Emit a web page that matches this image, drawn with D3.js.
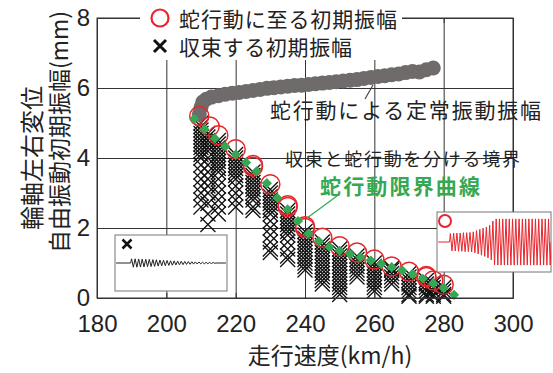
<!DOCTYPE html>
<html>
<head>
<meta charset="utf-8">
<script src="https://cdn.jsdelivr.net/npm/d3@7"></script>
<style>body{margin:0;background:#fff}</style>
</head>
<body>
<div id="chart"></div>
<script>
// axis ticks
const xTicks = [180, 200, 220, 240, 260, 280, 300];
const yTicks = [0, 2, 4, 6, 8];

// 蛇行動限界曲線 (green diamonds)
const limitSpeed = [208, 211, 214, 217, 220, 223, 226, 229, 232, 235, 238, 241, 244, 247, 250, 253, 256, 259, 262, 265, 268, 271, 274, 277, 280, 283];
const limitAmp   = [5.12, 4.82, 4.56, 4.33, 4.10, 3.87, 3.62, 3.28, 2.86, 2.53, 2.20, 1.84, 1.62, 1.46, 1.35, 1.26, 1.16, 1.07, 0.97, 0.88, 0.79, 0.68, 0.55, 0.42, 0.28, 0.09];

// 蛇行動に至る初期振幅 (red circles)
const huntSpeed = [209.5, 212.5, 215, 220, 225, 225, 230, 235, 235, 240, 240, 245, 250, 255, 260, 265, 270, 275, 275, 277, 280];
const huntAmp   = [5.2, 4.9, 4.65, 4.25, 3.75, 3.8, 3.25, 2.6, 2.65, 2.0, 2.05, 1.72, 1.48, 1.3, 1.1, 0.9, 0.75, 0.6, 0.63, 0.5, 0.38];

// 収束する初期振幅 (crosses), one list per speed
const convSpeed = [210, 212, 215, 220, 225, 230, 235, 240, 245, 250, 255, 260, 265, 270, 275, 277, 280];
const convAmp = [
  [5.0, 4.9, 4.8, 4.7, 4.6, 4.5, 4.4, 4.3, 4.2, 4.1, 4.0, 3.8, 3.6, 3.4, 3.2, 3.0, 2.8, 2.6],
  [4.7, 4.6, 4.5, 4.4, 4.3, 4.2, 4.0, 3.8, 3.6, 3.4, 3.2, 3.0, 2.7, 2.4, 2.1],
  [4.5, 4.4, 4.3, 4.2, 4.1, 4.0, 3.9, 3.8, 3.7, 3.6, 3.4, 3.2, 3.0, 2.8, 2.6, 2.4],
  [4.1, 4.0, 3.9, 3.8, 3.7, 3.6, 3.5, 3.4, 3.2, 3.0, 2.8, 2.6],
  [3.6, 3.5, 3.4, 3.3, 3.2, 3.1, 3.0, 2.9, 2.8, 2.6, 2.5],
  [3.1, 3.0, 2.9, 2.8, 2.7, 2.6, 2.5, 2.4, 2.2, 2.0, 1.8, 1.6, 1.4, 1.3],
  [2.5, 2.4, 2.3, 2.2, 2.1, 2.0, 1.9, 1.8, 1.6, 1.4, 1.2, 1.1],
  [1.9, 1.8, 1.7, 1.6, 1.5, 1.4, 1.3, 1.2, 1.1, 1.0, 0.9, 0.8],
  [1.6, 1.5, 1.4, 1.3, 1.2, 1.1, 1.0, 0.9, 0.8, 0.7, 0.6, 0.5, 0.4],
  [1.4, 1.3, 1.2, 1.1, 1.0, 0.9, 0.8, 0.7, 0.6, 0.5, 0.4, 0.3, 0.2, 0.1],
  [1.2, 1.1, 1.0, 0.9, 0.8, 0.7, 0.6],
  [1.0, 0.9, 0.8, 0.7, 0.6, 0.5, 0.4, 0.3, 0.2],
  [0.85, 0.8, 0.7, 0.6, 0.5, 0.4],
  [0.7, 0.6, 0.5, 0.4, 0.3, 0.2, 0.1, 0.05],
  [0.5, 0.4, 0.3, 0.2, 0.1, 0.05],
  [0.4, 0.3, 0.2, 0.1, 0.05],
  [0.3, 0.2, 0.1, 0.05]
];

// 蛇行動による定常振動振幅 (gray dots)
const steadySpeed = [209.5, 210, 210.5, 211.5, 213, 215, 217, 219, 221, 223, 225, 227, 229, 231, 233, 235, 237, 239, 241, 243, 245, 247, 249, 251, 253, 255, 257, 259, 261, 263, 265, 267, 269, 271, 273, 275, 277];
const steadyAmp   = [5.25, 5.45, 5.6, 5.68, 5.74, 5.78, 5.82, 5.85, 5.87, 5.9, 5.93, 5.96, 5.99, 6.01, 6.03, 6.05, 6.07, 6.08, 6.1, 6.12, 6.14, 6.16, 6.18, 6.2, 6.22, 6.24, 6.27, 6.3, 6.33, 6.35, 6.38, 6.4, 6.44, 6.47, 6.46, 6.52, 6.57];

// inset waveforms: peak of each half cycle
const convWave = [1.5, 1.5, 1.5, 1.5, 1.45, 1.45, 1.4, 1.4, 1.35, 1.3, 1.3, 1.25, 1.2, 1.2, 1.15, 1.1, 1.05, 1.0, 1.0, 0.95, 0.9, 0.85, 0.8, 0.8, 0.75, 0.7, 0.7, 0.65, 0.6, 0.6, 0.55, 0.5, 0.5, 0.45, 0.45, 0.4, 0.4, 0.35, 0.35, 0.3, 0.3, 0.3, 0.25, 0.25, 0.2, 0.2, 0.2, 0.15];
const huntWave = [2.8, 3.0, 3.0, 3.0, 3.0, 3.1, 3.0, 3.1, 3.1, 3.2, 3.1, 3.2, 3.2, 3.3, 3.4, 3.6, 3.8, 4.0, 4.2, 4.4, 4.6, 4.8, 5.0, 5.3, 5.6, 6.0, 7.0, 7.6,
  7.7, 7.7, 7.7, 7.7, 7.7, 7.7, 7.7, 7.7, 7.7, 7.7, 7.7, 7.7, 7.7, 7.7, 7.7, 7.7, 7.7, 7.7, 7.7, 7.7, 7.7, 7.7, 7.7, 7.7, 7.7, 7.7, 7.7, 7.7, 7.7, 7.7, 7.7, 7.7, 7.7, 7.7];

const width = 553, height = 373;
const margin = {top: 18, right: 40, bottom: 75, left: 97};
const plotW = width - margin.left - margin.right;
const plotH = height - margin.top - margin.bottom;
const jp = "'Noto Sans CJK JP', 'Noto Sans', sans-serif";
const num = "'Liberation Sans', Arial, sans-serif";
const red = "#e8252c", green = "#35a853", gray = "#6f6b6b";

const svg = d3.select("#chart").append("svg")
    .attr("width", width)
    .attr("height", height)
    .style("font-family", jp);

const x = d3.scaleLinear().domain([180, 300]).range([margin.left, margin.left + plotW]);
const y = d3.scaleLinear().domain([0, 8]).range([margin.top + plotH, margin.top]);

// grid
svg.append("g")
    .attr("transform", `translate(0,${margin.top + plotH})`)
    .call(d3.axisBottom(x).tickValues(xTicks).tickSize(-plotH).tickFormat(""))
    .call(g => g.select(".domain").remove())
    .selectAll("line").attr("stroke", "#cdcdcd");
svg.append("g")
    .attr("transform", `translate(${margin.left},0)`)
    .call(d3.axisLeft(y).tickValues(yTicks).tickSize(-plotW).tickFormat(""))
    .call(g => g.select(".domain").remove())
    .selectAll("line").attr("stroke", "#cdcdcd");

// crosses
const crosses = [];
convSpeed.forEach((s, i) => convAmp[i].forEach(a => crosses.push({s: s, a: a})));
svg.append("g").selectAll("path")
  .data(crosses)
  .join("path")
    .attr("transform", d => `translate(${x(d.s)},${y(d.a)})`)
    .attr("d", "M-7.5,-7.5L7.5,7.5M-7.5,7.5L7.5,-7.5")
    .attr("stroke", "#111")
    .attr("stroke-width", 1.3)
    .attr("fill", "none");

// steady amplitude
svg.append("g").selectAll("circle")
  .data(steadySpeed)
  .join("circle")
    .attr("cx", d => x(d))
    .attr("cy", (d, i) => y(steadyAmp[i]))
    .attr("r", 7.5)
    .attr("fill", gray);

// hunting onset circles
svg.append("g").selectAll("circle")
  .data(huntSpeed)
  .join("circle")
    .attr("cx", d => x(d))
    .attr("cy", (d, i) => y(huntAmp[i]))
    .attr("r", 9.5)
    .attr("fill", "none")
    .attr("stroke", red)
    .attr("stroke-width", 1.5);

// limit curve diamonds
svg.append("g").selectAll("rect")
  .data(limitSpeed)
  .join("rect")
    .attr("transform", (d, i) => `translate(${x(d)},${y(limitAmp[i])}) rotate(45)`)
    .attr("x", -3.6).attr("y", -3.6)
    .attr("width", 7.2).attr("height", 7.2)
    .attr("fill", green);

// frame and inward ticks
svg.append("rect")
    .attr("x", margin.left).attr("y", margin.top)
    .attr("width", plotW).attr("height", plotH)
    .attr("fill", "none").attr("stroke", "#333");

svg.append("g")
    .attr("transform", `translate(0,${margin.top + plotH})`)
    .call(d3.axisBottom(x).tickValues(xTicks).tickSize(-5).tickSizeOuter(0).tickPadding(17))
    .attr("font-family", num)
    .attr("font-size", 24);
svg.append("g")
    .attr("transform", `translate(${margin.left},0)`)
    .call(d3.axisLeft(y).tickValues(yTicks).tickSize(-5).tickSizeOuter(0).tickPadding(7))
    .attr("font-family", num)
    .attr("font-size", 24);
svg.append("g")
    .attr("transform", `translate(0,${margin.top})`)
    .call(d3.axisTop(x).tickValues(xTicks).tickSize(-5).tickSizeOuter(0).tickFormat(""));
svg.append("g")
    .attr("transform", `translate(${margin.left + plotW},0)`)
    .call(d3.axisRight(y).tickValues(yTicks).tickSize(-5).tickSizeOuter(0).tickFormat(""));
svg.selectAll(".domain, .tick line").attr("stroke", "#333");
svg.selectAll(".tick text").attr("fill", "#222");

// axis titles
svg.append("text")
    .attr("x", 330).attr("y", 364)
    .attr("text-anchor", "middle")
    .attr("font-size", 23)
    .attr("fill", "#222")
    .text("走行速度(km/h)");
svg.append("text")
    .attr("transform", "translate(30,158) rotate(-90)")
    .attr("text-anchor", "middle")
    .attr("dominant-baseline", "central")
    .attr("font-size", 24)
    .attr("fill", "#222")
    .text("輪軸左右変位");
svg.append("text")
    .attr("transform", "translate(58,132) rotate(-90)")
    .attr("text-anchor", "middle")
    .attr("dominant-baseline", "central")
    .attr("font-size", 23)
    .attr("fill", "#222")
    .text("自由振動初期振幅(mm)");

// legend
svg.append("rect").attr("x", 140).attr("y", 0).attr("width", 262).attr("height", 60).attr("fill", "#fff");
svg.append("circle").attr("cx", 160).attr("cy", 18).attr("r", 8.5)
    .attr("fill", "none").attr("stroke", red).attr("stroke-width", 2.2);
svg.append("path").attr("transform", "translate(160,46)")
    .attr("d", "M-6,-6L6,6M-6,6L6,-6")
    .attr("stroke", "#111").attr("stroke-width", 3);
svg.append("text").attr("x", 179).attr("y", 27).attr("font-size", 21)
    .attr("textLength", 218).attr("fill", "#222").text("蛇行動に至る初期振幅");
svg.append("text").attr("x", 179).attr("y", 55).attr("font-size", 21)
    .attr("textLength", 173).attr("fill", "#222").text("収束する初期振幅");

// annotations
svg.append("line").attr("x1", 373).attr("y1", 85).attr("x2", 365).attr("y2", 99)
    .attr("stroke", "#444").attr("stroke-width", 1.2);
svg.append("text").attr("x", 270).attr("y", 118).attr("font-size", 21)
    .attr("textLength", 271).attr("fill", "#222").text("蛇行動による定常振動振幅");
svg.append("text").attr("x", 285).attr("y", 166).attr("font-size", 18)
    .attr("textLength", 235).attr("fill", "#222").text("収束と蛇行動を分ける境界");
svg.append("line").attr("x1", 307).attr("y1", 218).attr("x2", 337).attr("y2", 196)
    .attr("stroke", green).attr("stroke-width", 1.2);
svg.append("text").attr("x", 320).attr("y", 194).attr("font-size", 21)
    .attr("font-weight", "bold").attr("textLength", 160)
    .attr("fill", green).text("蛇行動限界曲線");

// insets
function wave(peaks, flat0, t0, t1, flat1) {
  const pts = [[flat0, 0], [t0, 0]];
  peaks.forEach((p, i) => pts.push([t0 + (i + 0.5) * (t1 - t0) / peaks.length, i % 2 ? -p : p]));
  pts.push([t1, 0], [flat1, 0]);
  return pts;
}

const lx = d3.scaleLinear().domain([0, 100]).range([115, 227]);
const ly = d3.scaleLinear().domain([-10, 10]).range([291, 235]);
svg.append("rect").attr("x", 115).attr("y", 235).attr("width", 112).attr("height", 56)
    .attr("fill", "#fff").attr("stroke", "#777");
svg.append("path")
    .attr("d", d3.line().x(d => lx(d[0])).y(d => ly(d[1]))(wave(convWave, 1, 14, 90, 99)))
    .attr("fill", "none").attr("stroke", "#222").attr("stroke-width", 1);
svg.append("path").attr("transform", "translate(127,244)")
    .attr("d", "M-4.5,-4.5L4.5,4.5M-4.5,4.5L4.5,-4.5")
    .attr("stroke", "#111").attr("stroke-width", 2.5);

const rx = d3.scaleLinear().domain([0, 100]).range([437, 551]);
const ry = d3.scaleLinear().domain([-10, 10]).range([272, 212]);
svg.append("defs").append("clipPath").attr("id", "rclip")
  .append("rect").attr("x", 437).attr("y", 212).attr("width", 114).attr("height", 60);
svg.append("rect").attr("x", 437).attr("y", 212).attr("width", 114).attr("height", 60)
    .attr("fill", "#fff").attr("stroke", "#777");
svg.append("path")
    .attr("clip-path", "url(#rclip)")
    .attr("d", d3.line().x(d => rx(d[0])).y(d => ry(d[1]))(wave(huntWave, 1, 11, 100, 100)))
    .attr("fill", "none").attr("stroke", red).attr("stroke-width", 1);
svg.append("circle").attr("cx", 445).attr("cy", 221).attr("r", 6)
    .attr("fill", "none").attr("stroke", red).attr("stroke-width", 2);
</script>
</body>
</html>
